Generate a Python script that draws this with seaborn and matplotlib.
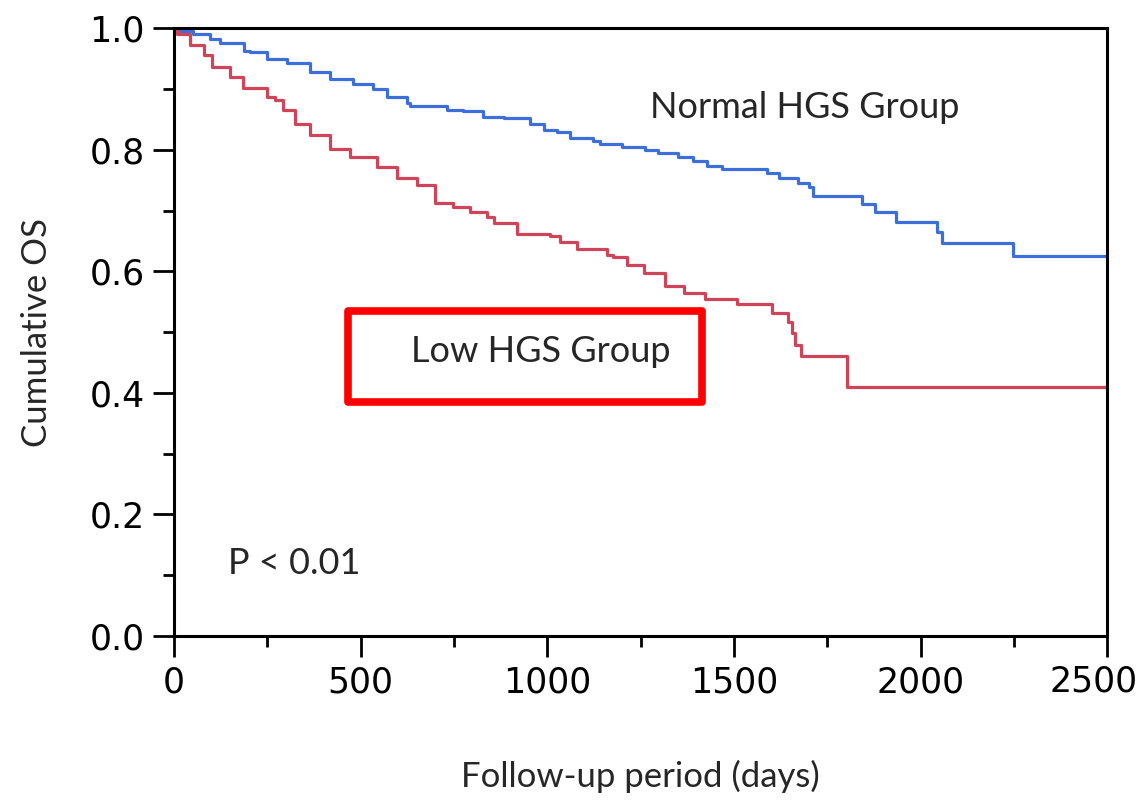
import matplotlib
matplotlib.use("Agg")
import matplotlib.pyplot as plt
import matplotlib.patches as patches
from matplotlib.ticker import MultipleLocator
import seaborn as sns
import pandas as pd

# Kaplan-Meier step points (days, cumulative OS)
normal_days = [0, 7, 51, 96, 123, 188, 204, 248, 302, 364, 418, 480, 534, 570, 623,
               632, 731, 775, 829, 883, 954, 990, 1025, 1061, 1123, 1141, 1200, 1262,
               1297, 1351, 1391, 1427, 1467, 1588, 1620, 1672, 1700, 1713, 1842, 1877,
               1935, 2045, 2057, 2247, 2500]
normal_os = [1.0, 0.995, 0.990, 0.983, 0.975, 0.963, 0.961, 0.950, 0.942, 0.928,
             0.917, 0.908, 0.900, 0.887, 0.877, 0.872, 0.865, 0.864, 0.854, 0.852,
             0.843, 0.833, 0.829, 0.819, 0.815, 0.810, 0.805, 0.799, 0.794, 0.788,
             0.782, 0.774, 0.769, 0.761, 0.753, 0.745, 0.739, 0.724, 0.711, 0.698,
             0.681, 0.665, 0.647, 0.625, 0.625]

low_days = [0, 7, 43, 79, 101, 150, 186, 248, 271, 293, 324, 364, 418, 472, 543,
            597, 650, 699, 748, 793, 838, 856, 918, 1007, 1034, 1079, 1159, 1177,
            1213, 1258, 1316, 1365, 1423, 1508, 1602, 1646, 1655, 1664, 1680, 1804,
            2500]
low_os = [1.0, 0.99, 0.972, 0.956, 0.936, 0.920, 0.901, 0.886, 0.882, 0.865,
          0.843, 0.824, 0.802, 0.788, 0.772, 0.754, 0.742, 0.713, 0.706, 0.697,
          0.690, 0.679, 0.662, 0.658, 0.648, 0.636, 0.627, 0.624, 0.610, 0.597,
          0.575, 0.564, 0.555, 0.546, 0.531, 0.517, 0.498, 0.479, 0.461, 0.410,
          0.410]

x_ticks = [0, 500, 1000, 1500, 2000, 2500]
y_ticks = [0.0, 0.2, 0.4, 0.6, 0.8, 1.0]

normal = pd.DataFrame({"days": normal_days, "os": normal_os})
low = pd.DataFrame({"days": low_days, "os": low_os})

sns.set_style("white")
label_font = ["Lato", "DejaVu Sans"]

fig = plt.figure(figsize=(11.45, 8.05), dpi=100)
ax = fig.add_axes([0.152, 0.21, 0.815, 0.755])

sns.lineplot(data=normal, x="days", y="os", drawstyle="steps-post",
             color="#3c6fd9", linewidth=2.3, ax=ax)
sns.lineplot(data=low, x="days", y="os", drawstyle="steps-post",
             color="#d04459", linewidth=2.3, ax=ax)

ax.set_xlim(0, 2500)
ax.set_ylim(0, 1.0)
# the last x label is drawn separately, nudged left to stay inside the figure
ax.set_xticks(x_ticks, [str(t) for t in x_ticks[:-1]] + [""])
ax.xaxis.set_minor_locator(MultipleLocator(250))
ax.set_yticks(y_ticks, [f"{v:.1f}" for v in y_ticks])
ax.yaxis.set_minor_locator(MultipleLocator(0.1))

for s in ax.spines.values():
    s.set_visible(True)
    s.set_color("black")
    s.set_linewidth(2.2)

ax.tick_params(which="major", direction="out", length=15, width=2,
               labelsize=25, pad=6, bottom=True, left=True, colors="black")
ax.tick_params(which="minor", direction="out", length=8, width=2,
               bottom=True, left=True, colors="black")

ax.annotate(str(x_ticks[-1]), xy=(x_ticks[-1], 0), xycoords=("data", "axes fraction"),
            xytext=(-14, -29), textcoords="offset pixels",
            ha="center", va="top", fontsize=25, color="black", annotation_clip=False)

ax.set_xlabel("Follow-up period (days)", fontsize=25, family=label_font, labelpad=44)
ax.set_ylabel("Cumulative OS", fontsize=25, family=label_font, labelpad=26)

ax.text(1275, 0.870, "Normal HGS Group", fontsize=26, family=label_font,
        ha="left", va="center")
ax.text(635, 0.468, "Low HGS Group", fontsize=26, family=label_font,
        ha="left", va="center")
ax.text(145, 0.120, "P < 0.01", fontsize=26, family=label_font,
        ha="left", va="center")

box = patches.Rectangle((465, 0.385), 950, 0.150, fill=False,
                        edgecolor="#ff0000", linewidth=5.5, joinstyle="round")
ax.add_patch(box)

fig.savefig("out.png", dpi=100)
